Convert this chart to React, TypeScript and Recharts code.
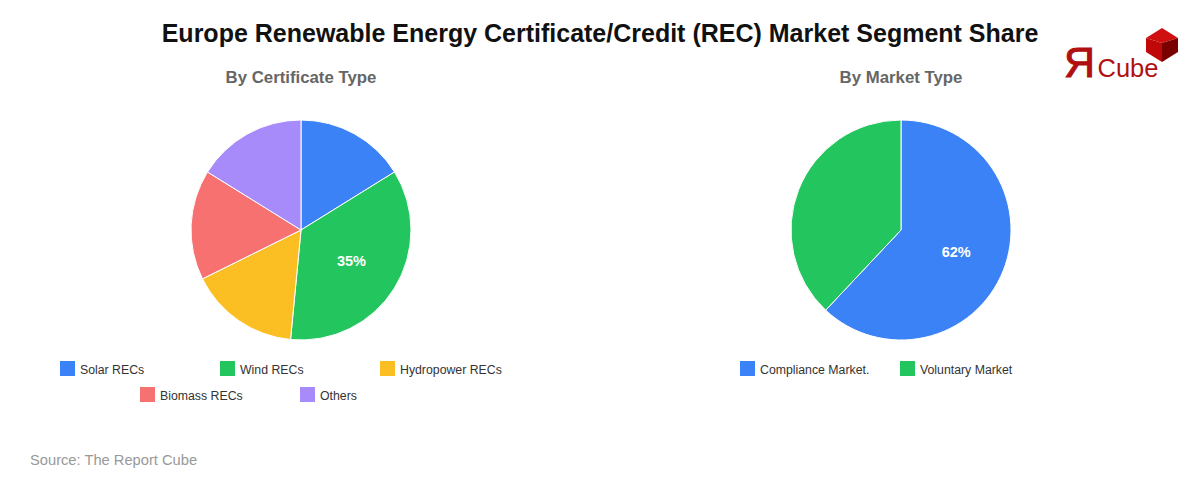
import { PieChart, Pie, Legend } from "recharts";

const certificateNames = ["Solar RECs", "Wind RECs", "Hydropower RECs", "Biomass RECs", "Others"];
const certificateShares = [16, 35, 16, 16, 16];
const certificateColors = ["#3b82f6", "#22c55e", "#fbbf24", "#f87171", "#a78bfa"];

const marketNames = ["Compliance Market.", "Voluntary Market"];
const marketShares = [62, 38];
const marketColors = ["#3b82f6", "#22c55e"];

const FONT = "'Liberation Sans', Arial, sans-serif";
const RAD = Math.PI / 180;

function toRows(names: string[], values: number[], colors: string[]) {
  return names.map((name, i) => ({ name, value: values[i], fill: colors[i] }));
}

// only the biggest slice gets a label
function makeLabel(maxValue: number) {
  return ({ cx, cy, midAngle, outerRadius, value }: any) => {
    if (value !== maxValue) return null;
    const r = outerRadius * 0.54;
    return (
      <text
        x={cx + r * Math.cos(-midAngle * RAD)}
        y={cy + r * Math.sin(-midAngle * RAD)}
        fill="#fff"
        fontSize={14.5}
        fontWeight="bold"
        fontFamily={FONT}
        textAnchor="middle"
        dominantBaseline="central"
      >
        {value}%
      </text>
    );
  };
}

function legendContent({ payload }: any) {
  return (
    <div style={{ display: "flex", flexWrap: "wrap", justifyContent: "center" }}>
      {(payload || []).map((item: any) => (
        <div key={item.value} style={{ width: 160, height: 26, display: "flex", fontSize: 12.3, color: "#333", fontFamily: FONT }}>
          <span style={{ width: 15, height: 15, marginRight: 5, background: item.color }} />
          <span style={{ lineHeight: "18px" }}>{item.value}</span>
        </div>
      ))}
    </div>
  );
}

function SharePie({ title, left, data }: { title: string; left: number; data: any[] }) {
  const maxValue = Math.max(...data.map((d) => d.value));
  return (
    <div style={{ position: "absolute", left, top: 0, width: 600, height: 420 }}>
      <PieChart width={600} height={420} margin={{ top: 0, right: 0, bottom: 0, left: 0 }}>
        <text x={301} y={83} textAnchor="middle" fontSize={16.8} fontWeight="bold" fill="#666" fontFamily={FONT}>
          {title}
        </text>
        <Pie
          data={data}
          dataKey="value"
          nameKey="name"
          cx={301}
          cy={230}
          outerRadius={110}
          startAngle={90}
          endAngle={-270}
          stroke="#fff"
          strokeWidth={1}
          label={makeLabel(maxValue)}
          labelLine={false}
          isAnimationActive={false}
        />
        <Legend itemSorter={null} content={legendContent} wrapperStyle={{ left: 60, top: 361, width: 480, bottom: "auto" }} />
      </PieChart>
    </div>
  );
}

function Logo() {
  return (
    <svg width={130} height={80} style={{ position: "absolute", left: 1060, top: 20 }} viewBox="0 0 130 80">
      <text x={19.5} y={57} fontSize={43} fill="#b01010" stroke="#b01010" strokeWidth={1} fontFamily={FONT} textAnchor="middle">Я</text>
      <text x={37.5} y={56.5} fontSize={25.5} fill="#b01010" fontFamily={FONT}>Cube</text>
      <polygon points="102,8 118,18 102,23 86,18" fill="#d01010" />
      <polygon points="86,18 102,23 102,42 86,32" fill="#c00808" />
      <polygon points="118,18 102,23 102,42 118,32" fill="#7a0000" />
    </svg>
  );
}

export default function App() {
  return (
    <div style={{ position: "absolute", left: 0, top: 0, width: 1200, height: 480, background: "#fff", fontFamily: FONT, overflow: "hidden" }}>
      <div style={{ position: "absolute", left: 0, top: 18, width: 1200, textAlign: "center", fontSize: 25, fontWeight: "bold", color: "#111", lineHeight: "30px" }}>
        Europe Renewable Energy Certificate/Credit (REC) Market Segment Share
      </div>
      <SharePie title="By Certificate Type" left={0} data={toRows(certificateNames, certificateShares, certificateColors)} />
      <SharePie title="By Market Type" left={600} data={toRows(marketNames, marketShares, marketColors)} />
      <Logo />
      <div style={{ position: "absolute", left: 30, top: 452, fontSize: 14.7, color: "#999" }}>Source: The Report Cube</div>
    </div>
  );
}
